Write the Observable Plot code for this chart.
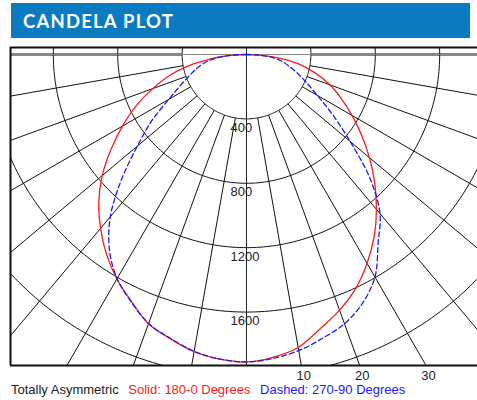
<!DOCTYPE html>
<html>
<head>
<meta charset="utf-8">
<script src="https://cdn.jsdelivr.net/npm/d3@7"></script>
<script src="https://cdn.jsdelivr.net/npm/@observablehq/plot@0.6"></script>
<style>
  html, body { margin: 0; padding: 0; background: #fff; width: 477px; height: 400px; overflow: hidden; position: relative; }
  #header { position: absolute; left: 11px; top: 3px; width: 459px; height: 35px; background: #0a7bc1; color: #fff;
    font-family: Lato, "Open Sans", sans-serif; font-weight: 700; font-size: 18.5px; letter-spacing: 1.2px; line-height: 36px; padding-left: 12px; box-sizing: border-box; }
  #chart { position: absolute; left: 0; top: 40px; }
  #caption { position: absolute; left: 11px; top: 382px; font-family: "Liberation Sans", Arial, sans-serif; font-size: 13px; line-height: 16px; white-space: nowrap; color: #222; }
  #caption .solid { color: #ff1a1a; margin-left: 6px; }
  #caption .dashed { color: #1a1aff; margin-left: 6px; }
</style>
</head>
<body>
<div id="header">CANDELA PLOT</div>
<div id="chart"></div>
<div id="caption">Totally Asymmetric <span class="solid">Solid: 180-0 Degrees</span> <span class="dashed">Dashed: 270-90 Degrees</span></div>
<script>
// Vertical angles (degrees from nadir)
const angles = [0, 5, 10, 15, 20, 25, 30, 35, 40, 45, 50, 55, 60, 65, 70, 75, 80, 82.5, 85, 87.5, 90];
// Candela values per plane
const solid180  = [1910, 1900, 1875, 1828, 1780, 1692, 1610, 1516, 1410, 1298, 1170, 1028, 890, 758, 620, 487, 330, 235, 160, 80, 0];
const solid0    = [1910, 1888, 1848, 1765, 1690, 1605, 1498, 1382, 1256, 1126, 997, 872, 757, 651, 553, 441, 325, 250, 165, 82, 0];
const dashed270 = [1910, 1899, 1872, 1826, 1778, 1695, 1608, 1484, 1316, 1098, 885, 719, 558, 451, 374, 313, 250, 200, 152, 78, 0];
const dashed90  = [1910, 1895, 1868, 1825, 1780, 1705, 1596, 1426, 1290, 1083, 840, 654, 508, 409, 335, 269, 215, 175, 121, 60, 0];
// Grid
const ringValues = [400, 800, 1200, 1600, 2000];
const ringLabels = ["400", "800", "1200", "1600"];
const rayAngles = [-90, -80, -70, -60, -50, -40, -30, -20, -10, 10, 20, 30, 40, 50, 60, 70, 80, 90];
const bottomTicks = [10, 20, 30];

const rad = d => d * Math.PI / 180;
const xDomain = [-1466, 1435];
const yDomain = [-43.5, 1932];

function polarCurve(leftVals, rightVals) {
  const pts = [];
  for (let i = angles.length - 1; i >= 0; i--) pts.push({x: -leftVals[i] * Math.sin(rad(angles[i])), y: leftVals[i] * Math.cos(rad(angles[i]))});
  for (let i = 1; i < angles.length; i++) pts.push({x: rightVals[i] * Math.sin(rad(angles[i])), y: rightVals[i] * Math.cos(rad(angles[i]))});
  return pts;
}
const solidPts = polarCurve(solid180, solid0);
const dashedPts = polarCurve(dashed270, dashed90);

const ringPts = ringValues.flatMap(r => d3.range(0, 361, 1).map(t => ({ring: r, x: r * Math.sin(rad(t)), y: r * Math.cos(rad(t))})));

const chart = Plot.plot({
  width: 477,
  height: 342,
  marginTop: 7,
  marginBottom: 17,
  marginLeft: 10,
  marginRight: 0,
  style: {fontFamily: "'Liberation Sans', Arial, sans-serif", background: "#fff", overflow: "visible"},
  x: {domain: xDomain, axis: null},
  y: {domain: yDomain, reverse: true, axis: null},
  marks: [
    Plot.line(ringPts, {x: "x", y: "y", z: "ring", stroke: "#111", strokeWidth: 1, clip: true}),
    Plot.link(rayAngles, {
      x1: a => ringValues[0] * Math.sin(rad(a)), y1: a => ringValues[0] * Math.cos(rad(a)),
      x2: a => 4000 * Math.sin(rad(a)), y2: a => 4000 * Math.cos(rad(a)),
      stroke: "#111", strokeWidth: a => Math.abs(a) === 90 ? 1.8 : 1, clip: true
    }),
    Plot.ruleY([0], {stroke: "#888", strokeWidth: 1}),
    Plot.ruleX([0], {stroke: "#222", strokeWidth: 1}),
    Plot.text(ringLabels, {x: 0, y: d => +d, text: d => d, textAnchor: "start", dx: -16, dy: 9, fontSize: 13, fill: "#222"}),
    Plot.line(solidPts, {x: "x", y: "y", stroke: "#ff1a1a", strokeWidth: 1.3, curve: "catmull-rom", clip: true}),
    Plot.line(dashedPts, {x: "x", y: "y", stroke: "#1a1aff", strokeWidth: 1.3, strokeDasharray: "5,3", curve: "catmull-rom", clip: true}),
    Plot.ruleX([xDomain[0]], {stroke: "#111", strokeWidth: 2}),
    Plot.ruleY([yDomain[0], yDomain[1]], {stroke: "#111", strokeWidth: 2}),
    Plot.text(bottomTicks, {x: a => yDomain[1] * Math.tan(rad(a)), y: yDomain[1], text: d => String(d), dy: 10, dx: 2.5, fontSize: 13, fill: "#222"})
  ]
});
document.getElementById("chart").appendChild(chart);
</script>
</body>
</html>
